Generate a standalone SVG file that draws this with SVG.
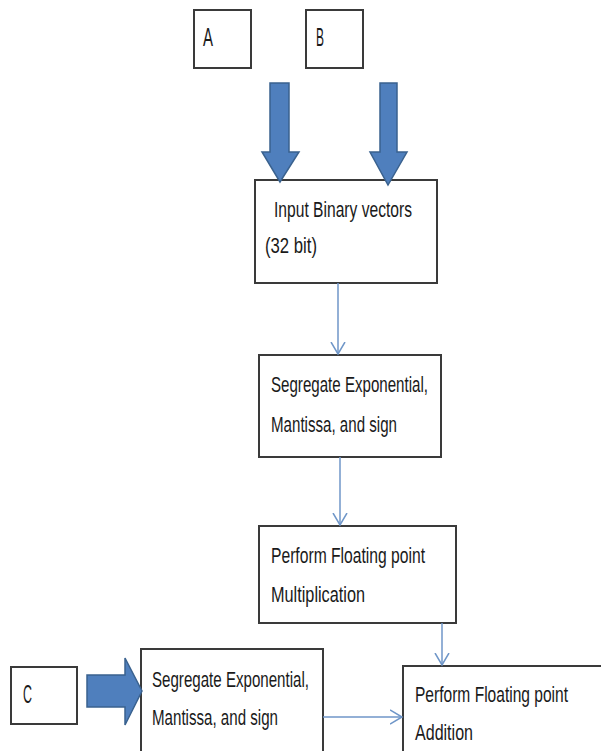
<svg xmlns="http://www.w3.org/2000/svg" width="601" height="751" viewBox="0 0 601 751">
<defs>
<style>
.box{fill:#fff;stroke:#3a3a3a;stroke-width:2}
.t{font-family:"Liberation Sans",Arial,sans-serif;font-size:22px;fill:#1a1a1a}
.big{font-family:"Liberation Sans",Arial,sans-serif;font-size:25px;fill:#1a1a1a}
.con{fill:none;stroke:#6f96c8;stroke-width:1.5}
.blk{fill:#4f7fbd;stroke:#3a628f;stroke-width:1.5}
</style>
<marker id="v" markerWidth="14" markerHeight="20" refX="12" refY="10" orient="auto" markerUnits="userSpaceOnUse">
<path d="M0,3 L12,10 L0,17" fill="none" stroke="#6f96c8" stroke-width="1.5"/>
</marker>
</defs>
<g id="nodeA"><rect class="box" x="194" y="10" width="57" height="58"/><text class="big" x="203" y="46" textLength="10" lengthAdjust="spacingAndGlyphs">A</text></g>
<g id="nodeB"><rect class="box" x="306" y="10" width="57" height="58"/><text class="big" x="316" y="46" textLength="8" lengthAdjust="spacingAndGlyphs">B</text></g>
<g id="nodeC"><rect class="box" x="11" y="667" width="66" height="57"/><text class="big" x="23" y="703" textLength="9" lengthAdjust="spacingAndGlyphs">C</text></g>
<g id="input"><rect class="box" x="255" y="180" width="182" height="103"/>
<text class="t" x="274" y="217" textLength="138" lengthAdjust="spacingAndGlyphs">Input Binary vectors</text>
<text class="t" x="265" y="253" textLength="52" lengthAdjust="spacingAndGlyphs">(32 bit)</text></g>
<g id="seg1"><rect class="box" x="259" y="355" width="182" height="102"/>
<text class="t" x="271" y="392" textLength="157" lengthAdjust="spacingAndGlyphs">Segregate Exponential,</text>
<text class="t" x="271" y="432" textLength="126" lengthAdjust="spacingAndGlyphs">Mantissa, and sign</text></g>
<g id="mult"><rect class="box" x="259" y="526" width="197" height="97"/>
<text class="t" x="271" y="563" textLength="154" lengthAdjust="spacingAndGlyphs">Perform Floating point</text>
<text class="t" x="271" y="602" textLength="94" lengthAdjust="spacingAndGlyphs">Multiplication</text></g>
<g id="seg2"><rect class="box" x="141" y="649" width="182" height="110"/>
<text class="t" x="152" y="687" textLength="157" lengthAdjust="spacingAndGlyphs">Segregate Exponential,</text>
<text class="t" x="152" y="725" textLength="126" lengthAdjust="spacingAndGlyphs">Mantissa, and sign</text></g>
<g id="add"><rect class="box" x="403" y="666" width="199" height="100"/>
<text class="t" x="415" y="702" textLength="153" lengthAdjust="spacingAndGlyphs">Perform Floating point</text>
<text class="t" x="415" y="740" textLength="58" lengthAdjust="spacingAndGlyphs">Addition</text></g>
<g id="connectors">
<path class="blk" d="M270,83 H289 V152 H299 L280,182 L262,152 H270 Z"/>
<path class="blk" d="M380,83 H397 V152 H407 L388,185 L370,152 H380 Z"/>
<path class="blk" d="M87,675 H125 V658 L142,691 L125,725 V707 H87 Z"/>
<path class="con" d="M338,283 V354" marker-end="url(#v)"/>
<path class="con" d="M340,457 V525" marker-end="url(#v)"/>
<path class="con" d="M442,623 V665" marker-end="url(#v)"/>
<path class="con" d="M323,717 H402" marker-end="url(#v)"/>
</g>
</svg>
